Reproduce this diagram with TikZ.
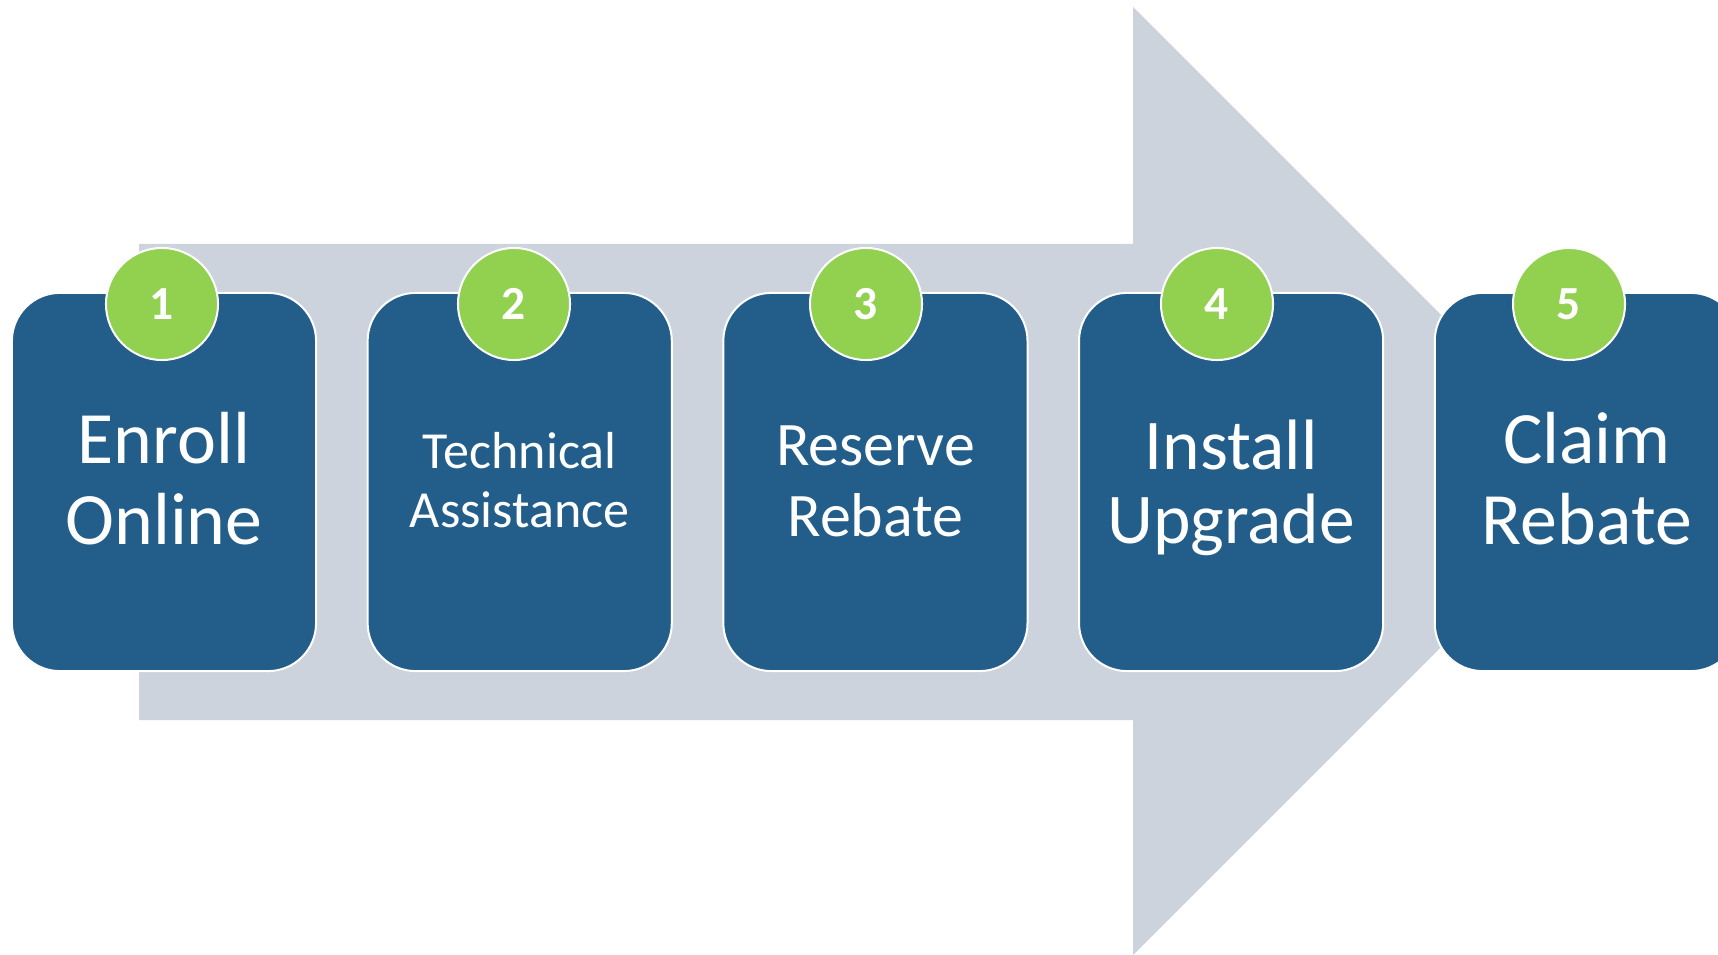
\documentclass[tikz,border=0pt]{standalone}
\usepackage{fontspec}
\setmainfont{Carlito}
\usetikzlibrary{positioning}
\definecolor{cardblue}{RGB}{35,94,138}
\definecolor{badgegreen}{RGB}{146,208,80}
\definecolor{arrowgray}{RGB}{204,211,220}

\begin{document}
\begin{tikzpicture}[x=0.01cm, y=-0.01cm,
                card/.style={rectangle, rounded corners=0.48cm, fill=cardblue, draw=white, line width=0.02cm,
                             minimum width=3.04cm, minimum height=3.78cm, inner sep=0pt, outer sep=0pt},
                badge/.style={circle, fill=badgegreen, draw=white, line width=0.02cm, minimum size=1.12cm,
                              inner sep=0pt, text=white, font=\fontsize{13.5}{13.5}\selectfont\bfseries},
                steplabel/.style={align=center, text=white, inner sep=0pt},
                bigarrow/.style={fill=arrowgray}
            ]
            \useasboundingbox (0,0) rectangle (1718,955);
            \clip (0,0) rectangle (1718,955);
            % the big arrow behind the steps
            \path[bigarrow] (139,244) -- (1133,244) -- (1133,7) -- (1607,481)
                -- (1133,955) -- (1133,720) -- (139,720) -- cycle;
            % step cards
            \node[card] (card1) at (164,482) {};
            \node[card, right=0.515cm of card1] (card2) {};
            \node[card, right=0.515cm of card2] (card3) {};
            \node[card, right=0.515cm of card3] (card4) {};
            \node[card, right=0.515cm of card4] (card5) {};
            % numbered badges
            \node[badge] (badge1) at (162,304) {1};
            \node[badge] (badge2) at (514,304) {2};
            \node[badge] (badge3) at (866,304) {3};
            \node[badge] (badge4) at (1217,304) {4};
            \node[badge] (badge5) at (1569,304) {5};
            % step texts
            \node[steplabel, font=\fontsize{21}{23}\selectfont] (label1) at ([yshift=0.03cm]card1.center) {Enroll\\Online};
            \node[steplabel, font=\fontsize{14.8}{16.8}\selectfont] (label2) at ([yshift=0.02cm]card2.center) {Technical\\Assistance};
            \node[steplabel, font=\fontsize{17.6}{20.2}\selectfont] (label3) at ([yshift=0.01cm]card3.center) {Reserve\\Rebate};
            \node[steplabel, font=\fontsize{20.3}{21}\selectfont] (label4) at ([yshift=-0.06cm]card4.center) {Install\\Upgrade};
            \node[steplabel, font=\fontsize{21}{23}\selectfont] (label5) at ([yshift=0.03cm]card5.center) {Claim\\Rebate};
        \end{tikzpicture}
\end{document}
